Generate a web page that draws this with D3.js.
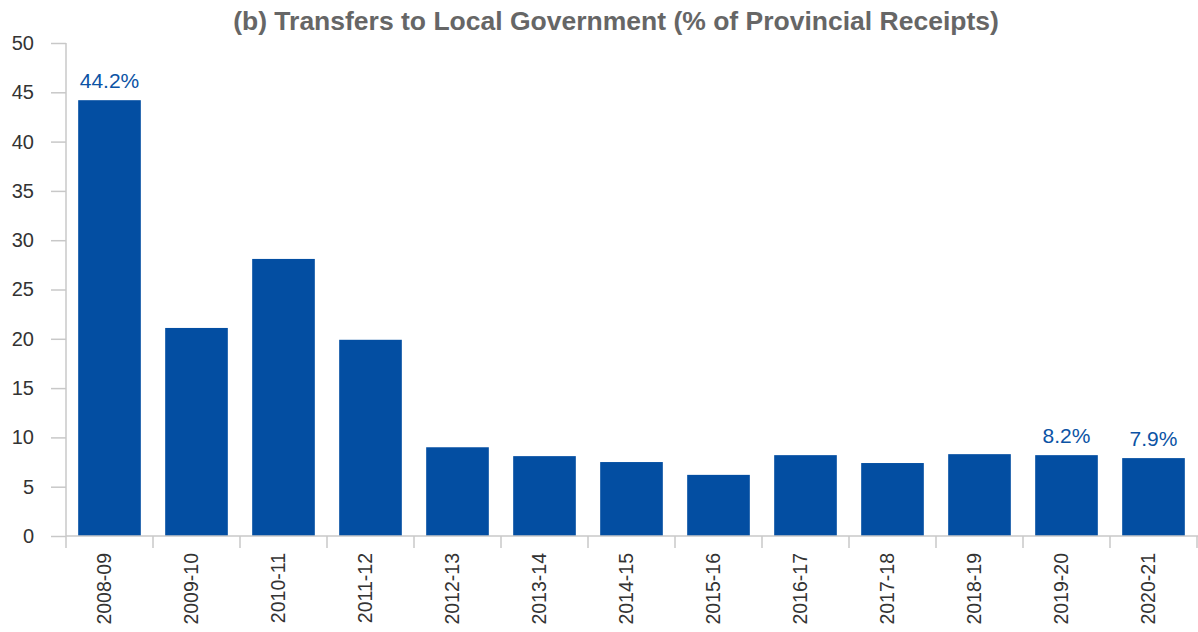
<!DOCTYPE html>
<html lang="en">
<head>
<meta charset="UTF-8">
<title>Transfers to Local Government</title>
<script src="https://cdnjs.cloudflare.com/ajax/libs/d3/7.8.5/d3.min.js"></script>
<style>
    body { margin: 0; background: #fff; font-family: "Liberation Sans", Arial, sans-serif; }
    .axis path, .axis line { stroke: #c8c8c8; stroke-width: 1.5px; }
    .axis text { fill: #333; }
</style>
</head>
<body>
<svg id="chart"></svg>
<script>
    const width = 1198;
    const height = 632;

    const years = ["2008-09", "2009-10", "2010-11", "2011-12", "2012-13", "2013-14", "2014-15",
        "2015-16", "2016-17", "2017-18", "2018-19", "2019-20", "2020-21"];
    const shares = [44.2, 21.1, 28.1, 19.9, 9.0, 8.1, 7.5, 6.2, 8.2, 7.4, 8.3, 8.2, 7.9];
    const labelled = ["2008-09", "2019-20", "2020-21"];
    const yTicks = [0, 5, 10, 15, 20, 25, 30, 35, 40, 45, 50];

    const data = years.map((y, i) => ({ year: y, value: shares[i] }));

    const plotLeft = 66, plotRight = 1197, plotTop = 43, plotBottom = 536;

    const svg = d3.select("#chart").attr("width", width).attr("height", height);

    const x = d3.scaleBand().domain(years).range([plotLeft, plotRight]).paddingInner(0.28).paddingOuter(0.14);
    const y = d3.scaleLinear().domain([0, 50]).range([plotBottom, plotTop]);

    // title
    svg.append("text")
        .attr("x", 616)
        .attr("y", 30)
        .attr("text-anchor", "middle")
        .attr("font-size", 26.5)
        .attr("font-weight", "bold")
        .attr("fill", "#666")
        .text("(b) Transfers to Local Government (% of Provincial Receipts)");

    // y axis
    svg.append("g")
        .attr("class", "axis")
        .attr("transform", "translate(" + plotLeft + ",0)")
        .call(d3.axisLeft(y).tickValues(yTicks).tickSize(15).tickPadding(17))
        .call(g => g.select(".domain").attr("d", "M0," + plotTop + "V" + plotBottom))
        .selectAll("text").attr("font-size", 20).attr("font-family", "Liberation Sans, Arial, sans-serif");

    // bars
    svg.selectAll("rect.bar")
        .data(data)
        .join("rect")
        .attr("class", "bar")
        .attr("x", d => x(d.year))
        .attr("y", d => y(d.value))
        .attr("width", x.bandwidth())
        .attr("height", d => y(0) - y(d.value))
        .attr("fill", "#034ea2");

    // x axis line + boundary ticks
    const gx = svg.append("g").attr("class", "axis");
    gx.append("line")
        .attr("x1", plotLeft).attr("x2", plotRight + 1)
        .attr("y1", plotBottom).attr("y2", plotBottom);
    const half = x.step() * x.paddingInner() / 2;
    const bounds = years.map(d => x(d) - half).concat([plotRight]);
    gx.selectAll("line.tick")
        .data(bounds)
        .join("line")
        .attr("class", "tick")
        .attr("x1", d => d).attr("x2", d => d)
        .attr("y1", plotBottom).attr("y2", plotBottom + 12);

    // x labels
    svg.selectAll("text.xlab")
        .data(years)
        .join("text")
        .attr("class", "xlab")
        .attr("transform", d => "translate(" + (x(d) + x.bandwidth() / 2 + 1) + "," + (plotBottom + 17) + ") rotate(-90)")
        .attr("text-anchor", "end")
        .attr("font-size", 19.5)
        .attr("fill", "#333")
        .text(d => d);

    // value labels
    svg.selectAll("text.val")
        .data(data.filter(d => labelled.includes(d.year)))
        .join("text")
        .attr("class", "val")
        .attr("x", d => x(d.year) + x.bandwidth() / 2)
        .attr("y", d => y(d.value) - 12)
        .attr("text-anchor", "middle")
        .attr("font-size", 21)
        .attr("fill", "#0b53a5")
        .text(d => d.value.toFixed(1) + "%");
</script>
</body>
</html>
